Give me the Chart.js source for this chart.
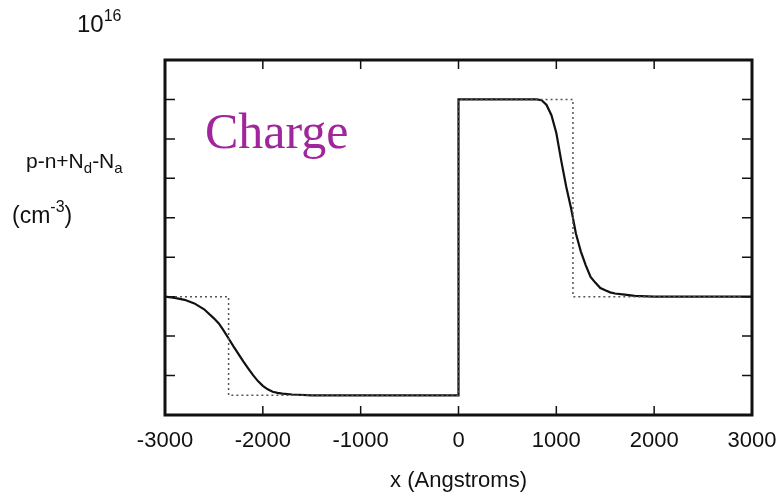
<!DOCTYPE html>
<html>
<head>
<meta charset="utf-8">
<script src="https://cdn.jsdelivr.net/npm/chart.js@4/dist/chart.umd.min.js"></script>
<style>
  html, body { margin: 0; padding: 0; background: #fff; }
  #wrap { position: relative; width: 777px; height: 495px; }
  #wrap canvas { position: absolute; left: 0; top: 0; }
  .lbl { position: absolute; font-family: "Liberation Sans", Arial, sans-serif; color: #111; line-height: 1; white-space: nowrap; }
  .up { position: relative; }
  .dn { position: relative; }
  #charge { position: absolute; left: 205px; top: 106px; font-family: "Liberation Serif", "Times New Roman", serif; font-size: 50px; line-height: 1; color: #a0269c; }
</style>
</head>
<body>
<div id="wrap">
  <canvas id="plot" width="777" height="495"></canvas>
  <div class="lbl" style="left:77px; top:12px; font-size:24px;">10<span class="up" style="font-size:16px; top:-11px;">16</span></div>
  <div class="lbl" style="left:26px; top:150px; font-size:21px;">p-n+N<span class="dn" style="font-size:15px; top:5px;">d</span>-N<span class="dn" style="font-size:15px; top:5px;">a</span></div>
  <div class="lbl" style="left:12px; top:204px; font-size:23px;">(cm<span class="up" style="font-size:16px; top:-11px;">-3</span>)</div>
  <div id="charge">Charge</div>
</div>
<script>
// axis ticks
var xTickValues = [-3000, -2000, -1000, 0, 1000, 2000, 3000];
var yTickValues = [-3, -2, -1, 0, 1, 2, 3, 4, 5, 6];

// abrupt doping profile (dotted), units of 1e16 cm^-3
var stepX      = [-3000, -2350, -2350, 0,    0, 1170, 1170, 3000];
var stepCharge = [0,     0,     -2.5,  -2.5, 5, 5,    0,    0];

// computed net charge (solid)
var profileX = [-3000, -2900, -2800, -2700, -2600, -2500, -2450, -2400, -2350, -2300,
                -2250, -2200, -2150, -2100, -2050, -2000, -1950, -1900, -1850, -1800,
                -1700, -1500, 0, 0, 800, 850, 900, 950, 1000, 1050,
                1100, 1150, 1200, 1250, 1300, 1350, 1400, 1450, 1500, 1550,
                1600, 1700, 1800, 2000, 3000];
var profileCharge = [0, -0.03, -0.08, -0.17, -0.32, -0.55, -0.68, -0.86, -1.06, -1.26,
                -1.45, -1.64, -1.82, -1.99, -2.14, -2.26, -2.35, -2.41, -2.44, -2.46,
                -2.48, -2.5, -2.5, 5, 5, 4.98, 4.86, 4.6, 4.15, 3.45,
                2.8, 2.25, 1.6, 1.15, 0.8, 0.5, 0.35, 0.22, 0.16, 0.11,
                0.08, 0.05, 0.02, 0, 0];

function points(xs, ys) {
  return xs.map(function(x, i) { return {x: x, y: ys[i]}; });
}

// box around the plot with inward ticks on all four sides
var frame = {
  id: 'frame',
  afterDatasetsDraw: function(chart) {
    var ctx = chart.ctx, a = chart.chartArea;
    var xs = chart.scales.x, ys = chart.scales.y;
    ctx.save();
    ctx.strokeStyle = '#111';
    ctx.lineWidth = 1.5;
    ctx.beginPath();
    xTickValues.slice(1, -1).forEach(function(v) {
      var px = xs.getPixelForValue(v);
      ctx.moveTo(px, a.top); ctx.lineTo(px, a.top + 9);
      ctx.moveTo(px, a.bottom); ctx.lineTo(px, a.bottom - 9);
    });
    yTickValues.slice(1, -1).forEach(function(v) {
      var py = ys.getPixelForValue(v);
      ctx.moveTo(a.left, py); ctx.lineTo(a.left + 10, py);
      ctx.moveTo(a.right, py); ctx.lineTo(a.right - 10, py);
    });
    ctx.stroke();
    ctx.lineWidth = 3;
    ctx.strokeRect(a.left, a.top, a.right - a.left, a.bottom - a.top);
    ctx.restore();
  }
};

var ctx = document.getElementById('plot').getContext('2d');
var chart = new Chart(ctx, {
  type: 'line',
  data: {
    datasets: [{
      label: 'abrupt',
      data: points(stepX, stepCharge),
      borderColor: '#555',
      borderWidth: 1.5,
      borderDash: [2, 3],
      pointRadius: 0,
      tension: 0,
      fill: false
    }, {
      label: 'net charge',
      data: points(profileX, profileCharge),
      borderColor: '#111',
      borderWidth: 2.2,
      pointRadius: 0,
      tension: 0,
      fill: false
    }]
  },
  options: {
    responsive: false,
    animation: false,
    layout: { padding: { left: 165, right: 25, top: 60, bottom: 0 } },
    plugins: { legend: { display: false }, tooltip: { enabled: false } },
    scales: {
      x: {
        type: 'linear',
        min: -3000,
        max: 3000,
        afterBuildTicks: function(scale) {
          scale.ticks = xTickValues.map(function(v) { return {value: v}; });
        },
        afterFit: function(scale) {
          scale.height = 80;
          // labels overhang into the layout padding
          scale.paddingLeft = 0;
          scale.paddingRight = 0;
        },
        grid: { display: false, drawTicks: false },
        border: { display: false },
        ticks: {
          padding: 13,
          color: '#111',
          maxRotation: 0,
          font: { family: '"Liberation Sans", Arial, sans-serif', size: 22 },
          callback: function(v) { return String(v); }
        },
        title: {
          display: true,
          text: 'x (Angstroms)',
          color: '#111',
          padding: { top: 0, bottom: 1 },
          font: { family: '"Liberation Sans", Arial, sans-serif', size: 22 }
        }
      },
      y: {
        type: 'linear',
        min: -3,
        max: 6,
        afterBuildTicks: function(scale) {
          scale.ticks = yTickValues.map(function(v) { return {value: v}; });
        },
        afterFit: function(scale) { scale.width = 0; },
        grid: { display: false, drawTicks: false },
        border: { display: false },
        ticks: { display: false }
      }
    }
  },
  plugins: [frame]
});
</script>
</body>
</html>
